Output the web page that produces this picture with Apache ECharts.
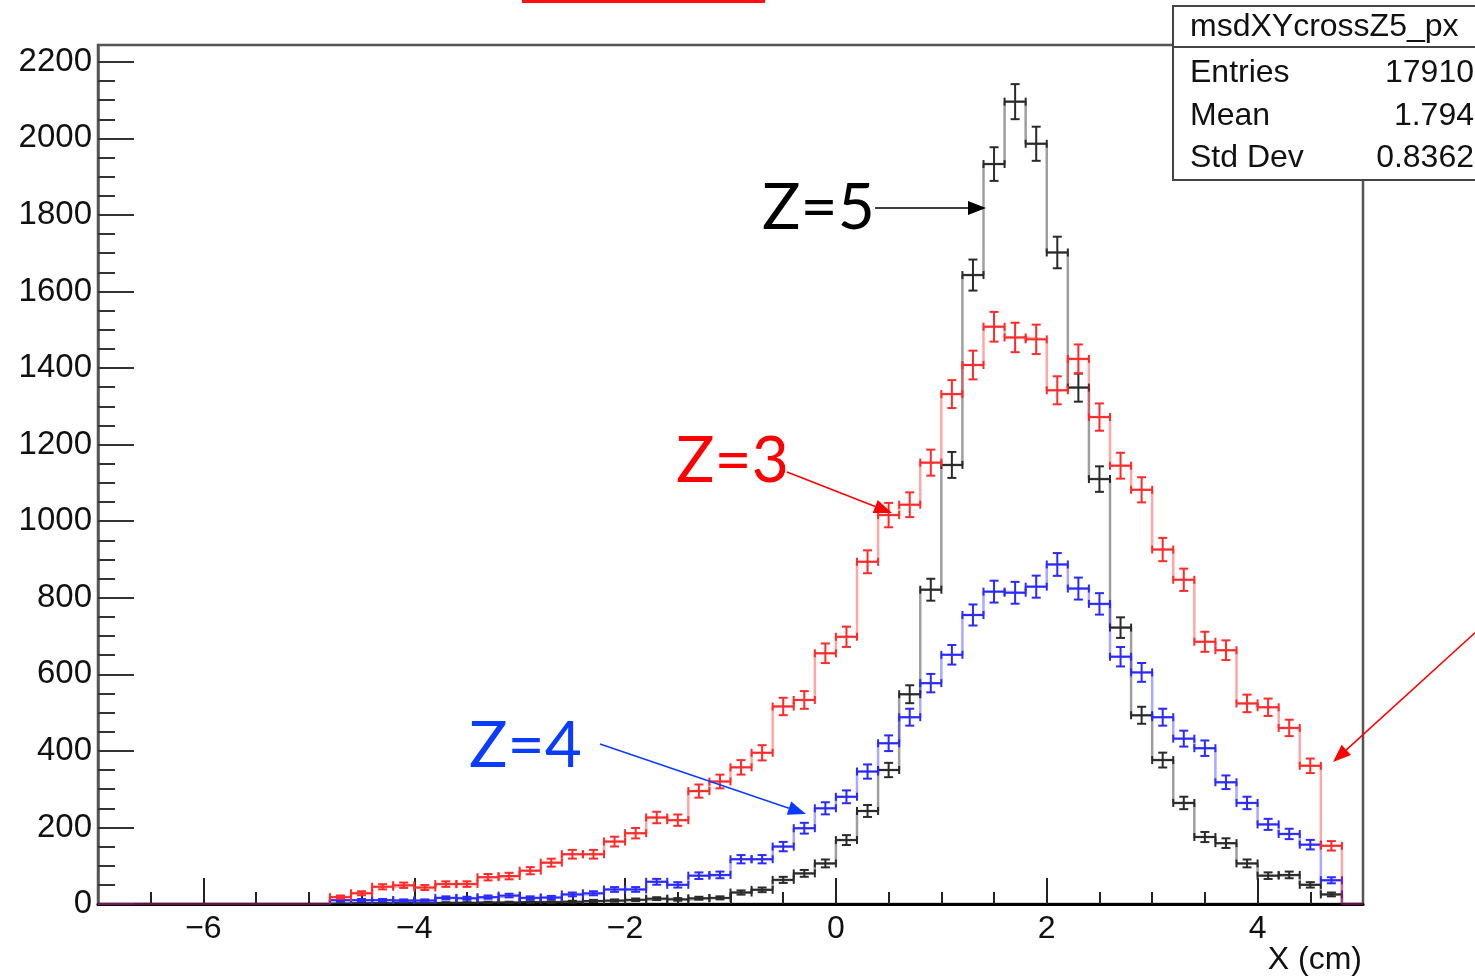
<!DOCTYPE html>
<html>
<head>
<meta charset="utf-8">
<script src="https://cdn.jsdelivr.net/npm/echarts@6/dist/echarts.min.js"></script>
<style>
html,body{margin:0;padding:0;background:#fff;}
#c{width:1475px;height:980px;}
</style>
</head>
<body>
<div id="c"></div>
<script>
// ---- data (bin centers in cm, counts per bin) ----
const binWidth = 0.2;
const binCenters = [-4.7,-4.5,-4.3,-4.1,-3.9,-3.7,-3.5,-3.3,-3.1,-2.9,-2.7,-2.5,-2.3,-2.1,-1.9,-1.7,-1.5,-1.3,-1.1,-0.9,-0.7,-0.5,-0.3,-0.1,
                    0.1,0.3,0.5,0.7,0.9,1.1,1.3,1.5,1.7,1.9,2.1,2.3,2.5,2.7,2.9,3.1,3.3,3.5,3.7,3.9,4.1,4.3,4.5,4.7];
const countsZ3 = [18,28,45,49,43,52,52,70,73,87,108,130,130,163,185,226,219,295,320,357,395,516,533,655,
                  698,894,1016,1043,1153,1332,1408,1508,1480,1475,1342,1424,1272,1145,1082,926,847,685,663,524,514,460,361,152];
const countsZ4 = [10,10,10,9,9,16,15,18,22,16,17,25,28,38,38,58,50,74,76,117,117,150,198,250,
                  280,346,420,488,577,651,755,816,813,829,887,824,784,646,605,488,432,407,318,264,208,183,155,62];
const countsZ5 = [1,2,2,3,2,3,3,4,4,5,5,6,8,9,11,14,12,15,16,30,37,63,80,106,
                  167,243,350,548,821,1147,1643,1933,2096,1986,1702,1349,1110,722,493,376,264,175,159,106,74,76,50,25];
const xTicks = [-6,-4,-2,0,2,4];
const xMinorTicks = [-6.5,-5.5,-5,-4.5,-3.5,-3,-2.5,-1.5,-1,-0.5,0.5,1,1.5,2.5,3,3.5,4.5];
const yTicks = [0,200,400,600,800,1000,1200,1400,1600,1800,2000,2200];
const yMinorTicks = [50,100,150,250,300,350,450,500,550,650,700,750,850,900,950,1050,1100,1150,1250,1300,1350,
                     1450,1500,1550,1650,1700,1750,1850,1900,1950,2050,2100,2150];
const statsTitle = 'msdXYcrossZ5_px';
const statsRows = [['Entries','17910'],['Mean','1.794'],['Std Dev','0.8362']];

// ---- chart ----
const X_MIN = -7, X_MAX = 5, Y_MAX = 2244;
const FONT = '"Liberation Sans", Arial, Helvetica, sans-serif';

function outline(counts){
  const pts = [[X_MIN, 0]];
  binCenters.forEach((c,i)=>pts.push([+(c - binWidth/2).toFixed(4), counts[i]]));
  pts.push([+(binCenters[binCenters.length-1] + binWidth/2).toFixed(4), 0]);
  pts.push([X_MAX, 0]);
  return pts;
}
function errData(counts){
  return binCenters.map((c,i)=>[c, counts[i], Math.sqrt(counts[i])]);
}
function errRender(color){
  return function(params, api){
    const x = api.value(0), y = api.value(1), e = api.value(2);
    const pL = api.coord([x - binWidth/2, y]);
    const pR = api.coord([x + binWidth/2, y]);
    const pT = api.coord([x, y + e]);
    const pB = api.coord([x, Math.max(0, y - e)]);
    const cx = pT[0], cap = 4.5, et = 4;
    const st = {stroke: color, lineWidth: 2, fill: null};
    const L = (x1,y1,x2,y2)=>({type:'line', shape:{x1,y1,x2,y2}, style:st});
    return {type:'group', children:[
      L(pL[0],pL[1],pR[0],pR[1]),
      L(pL[0],pL[1]-et,pL[0],pL[1]+et),
      L(pR[0],pR[1]-et,pR[0],pR[1]+et),
      L(cx,pT[1],cx,pB[1]),
      L(cx-cap,pT[1],cx+cap,pT[1]),
      L(cx-cap,pB[1],cx+cap,pB[1])
    ]};
  };
}
function histSeries(name, counts, stepColor, errColor, z){
  return [
    {name:name+'-outline', type:'line', step:'end', data:outline(counts), symbol:'none', showSymbol:false,
     lineStyle:{color:stepColor, width:2.5}, clip:true, silent:true, z:z, animation:false},
    {name:name+'-err', type:'custom', data:errData(counts), encode:{x:0,y:1}, renderItem:errRender(errColor),
     clip:true, silent:true, z:z+1, animation:false}
  ];
}

function arrow(x1,y1,x2,y2,color,w,len,hw){
  const dx=x2-x1, dy=y2-y1, d=Math.hypot(dx,dy), ux=dx/d, uy=dy/d;
  const bx=x2-ux*len, by=y2-uy*len;
  return [
    {type:'line', shape:{x1,y1,x2:bx,y2:by}, style:{stroke:color, lineWidth:w}, z:100},
    {type:'polygon', shape:{points:[[x2,y2],[bx-uy*hw,by+ux*hw],[bx+uy*hw,by-ux*hw]]}, style:{fill:color}, z:100}
  ];
}

const ANN = '"Lato", "Open Sans", sans-serif';
const graphics = [
  {type:'rect', shape:{x:522,y:0,width:243,height:3}, style:{fill:'#ff1010'}, z:100},
  {type:'text', x:762, y:208, style:{text:'Z=5', fill:'#000', font:'64px '+ANN, textVerticalAlign:'middle'}, z:100},
  {type:'text', x:676, y:461, style:{text:'Z=3', fill:'#ff0000', font:'64px '+ANN, textVerticalAlign:'middle'}, z:100},
  {type:'text', x:469, y:746, style:{text:'Z=4', fill:'#0a3cff', font:'64px '+ANN, textVerticalAlign:'middle'}, z:100},
  ...arrow(875,208,986,208,'#000',1.5,18,7),
  ...arrow(787,472,892,513,'#ff0000',1.5,18,7),
  ...arrow(600,744,806,814,'#0a3cff',1.5,18,7),
  ...arrow(1478,630,1333,762,'#ff0000',1.5,18,7),
  {type:'text', x:1362, y:960, style:{text:'X (cm)', fill:'#111', font:'32px '+FONT, textAlign:'right', textVerticalAlign:'middle'}, z:100},
  {type:'rect', shape:{x:1173,y:6,width:330,height:174}, style:{fill:'#fff', stroke:'#444', lineWidth:2}, z:110},
  {type:'line', shape:{x1:1173,y1:47,x2:1480,y2:47}, style:{stroke:'#444', lineWidth:2}, z:111},
  {type:'text', x:1190, y:27, style:{text:statsTitle, fill:'#111', font:'32px '+FONT, textVerticalAlign:'middle'}, z:111}
];
const rowY = [73,116,158];
statsRows.forEach((r,i)=>{
  graphics.push({type:'text', x:1190, y:rowY[i], style:{text:r[0], fill:'#111', font:'32px '+FONT, textVerticalAlign:'middle'}, z:111});
  graphics.push({type:'text', x:1474, y:rowY[i], style:{text:r[1], fill:'#111', font:'32px '+FONT, textAlign:'right', textVerticalAlign:'middle'}, z:111});
});

const chart = echarts.init(document.getElementById('c'));
chart.setOption({
  animation:false,
  backgroundColor:'#fff',
  grid:{left:98, right:112, top:45, bottom:76, containLabel:false, outerBoundsMode:'none',
        show:true, borderColor:'#555', borderWidth:2.5, backgroundColor:'transparent'},
  xAxis:[
    {type:'value', min:X_MIN, max:X_MAX, position:'bottom',
     axisLine:{show:true, onZero:false, lineStyle:{color:'#000', width:3}},
     axisTick:{show:true, inside:true, length:26, customValues:xTicks, lineStyle:{color:'#222', width:2}},
     axisLabel:{show:true, customValues:xTicks, margin:9, color:'#111', fontSize:32, fontFamily:FONT,
                formatter:v=>String(v).replace('-','\u2212')},
     splitLine:{show:false}},
    {type:'value', min:X_MIN, max:X_MAX, position:'bottom',
     axisLine:{show:false, onZero:false},
     axisTick:{show:true, inside:true, length:12, customValues:xMinorTicks, lineStyle:{color:'#222', width:2}},
     axisLabel:{show:false}, splitLine:{show:false}}
  ],
  yAxis:[
    {type:'value', min:0, max:Y_MAX, position:'left',
     axisLine:{show:true, onZero:false, lineStyle:{color:'#555', width:2.5}},
     axisTick:{show:true, inside:true, length:36, customValues:yTicks, lineStyle:{color:'#333', width:2}},
     axisLabel:{show:true, customValues:yTicks, margin:6, color:'#111', fontSize:33, fontFamily:FONT,
                formatter:v=>String(v)},
     splitLine:{show:false}},
    {type:'value', min:0, max:Y_MAX, position:'left',
     axisLine:{show:false, onZero:false},
     axisTick:{show:true, inside:true, length:17, customValues:yMinorTicks, lineStyle:{color:'#333', width:2}},
     axisLabel:{show:false}, splitLine:{show:false}}
  ],
  series:[
    ...histSeries('Z5', countsZ5, 'rgba(0,0,0,0.38)', '#2a2a2a', 2),
    ...histSeries('Z4', countsZ4, 'rgba(30,30,255,0.38)', '#2a2aff', 4),
    ...histSeries('Z3', countsZ3, 'rgba(255,20,20,0.38)', '#ff2a2a', 6)
  ],
  graphic:graphics
});
</script>
</body>
</html>
